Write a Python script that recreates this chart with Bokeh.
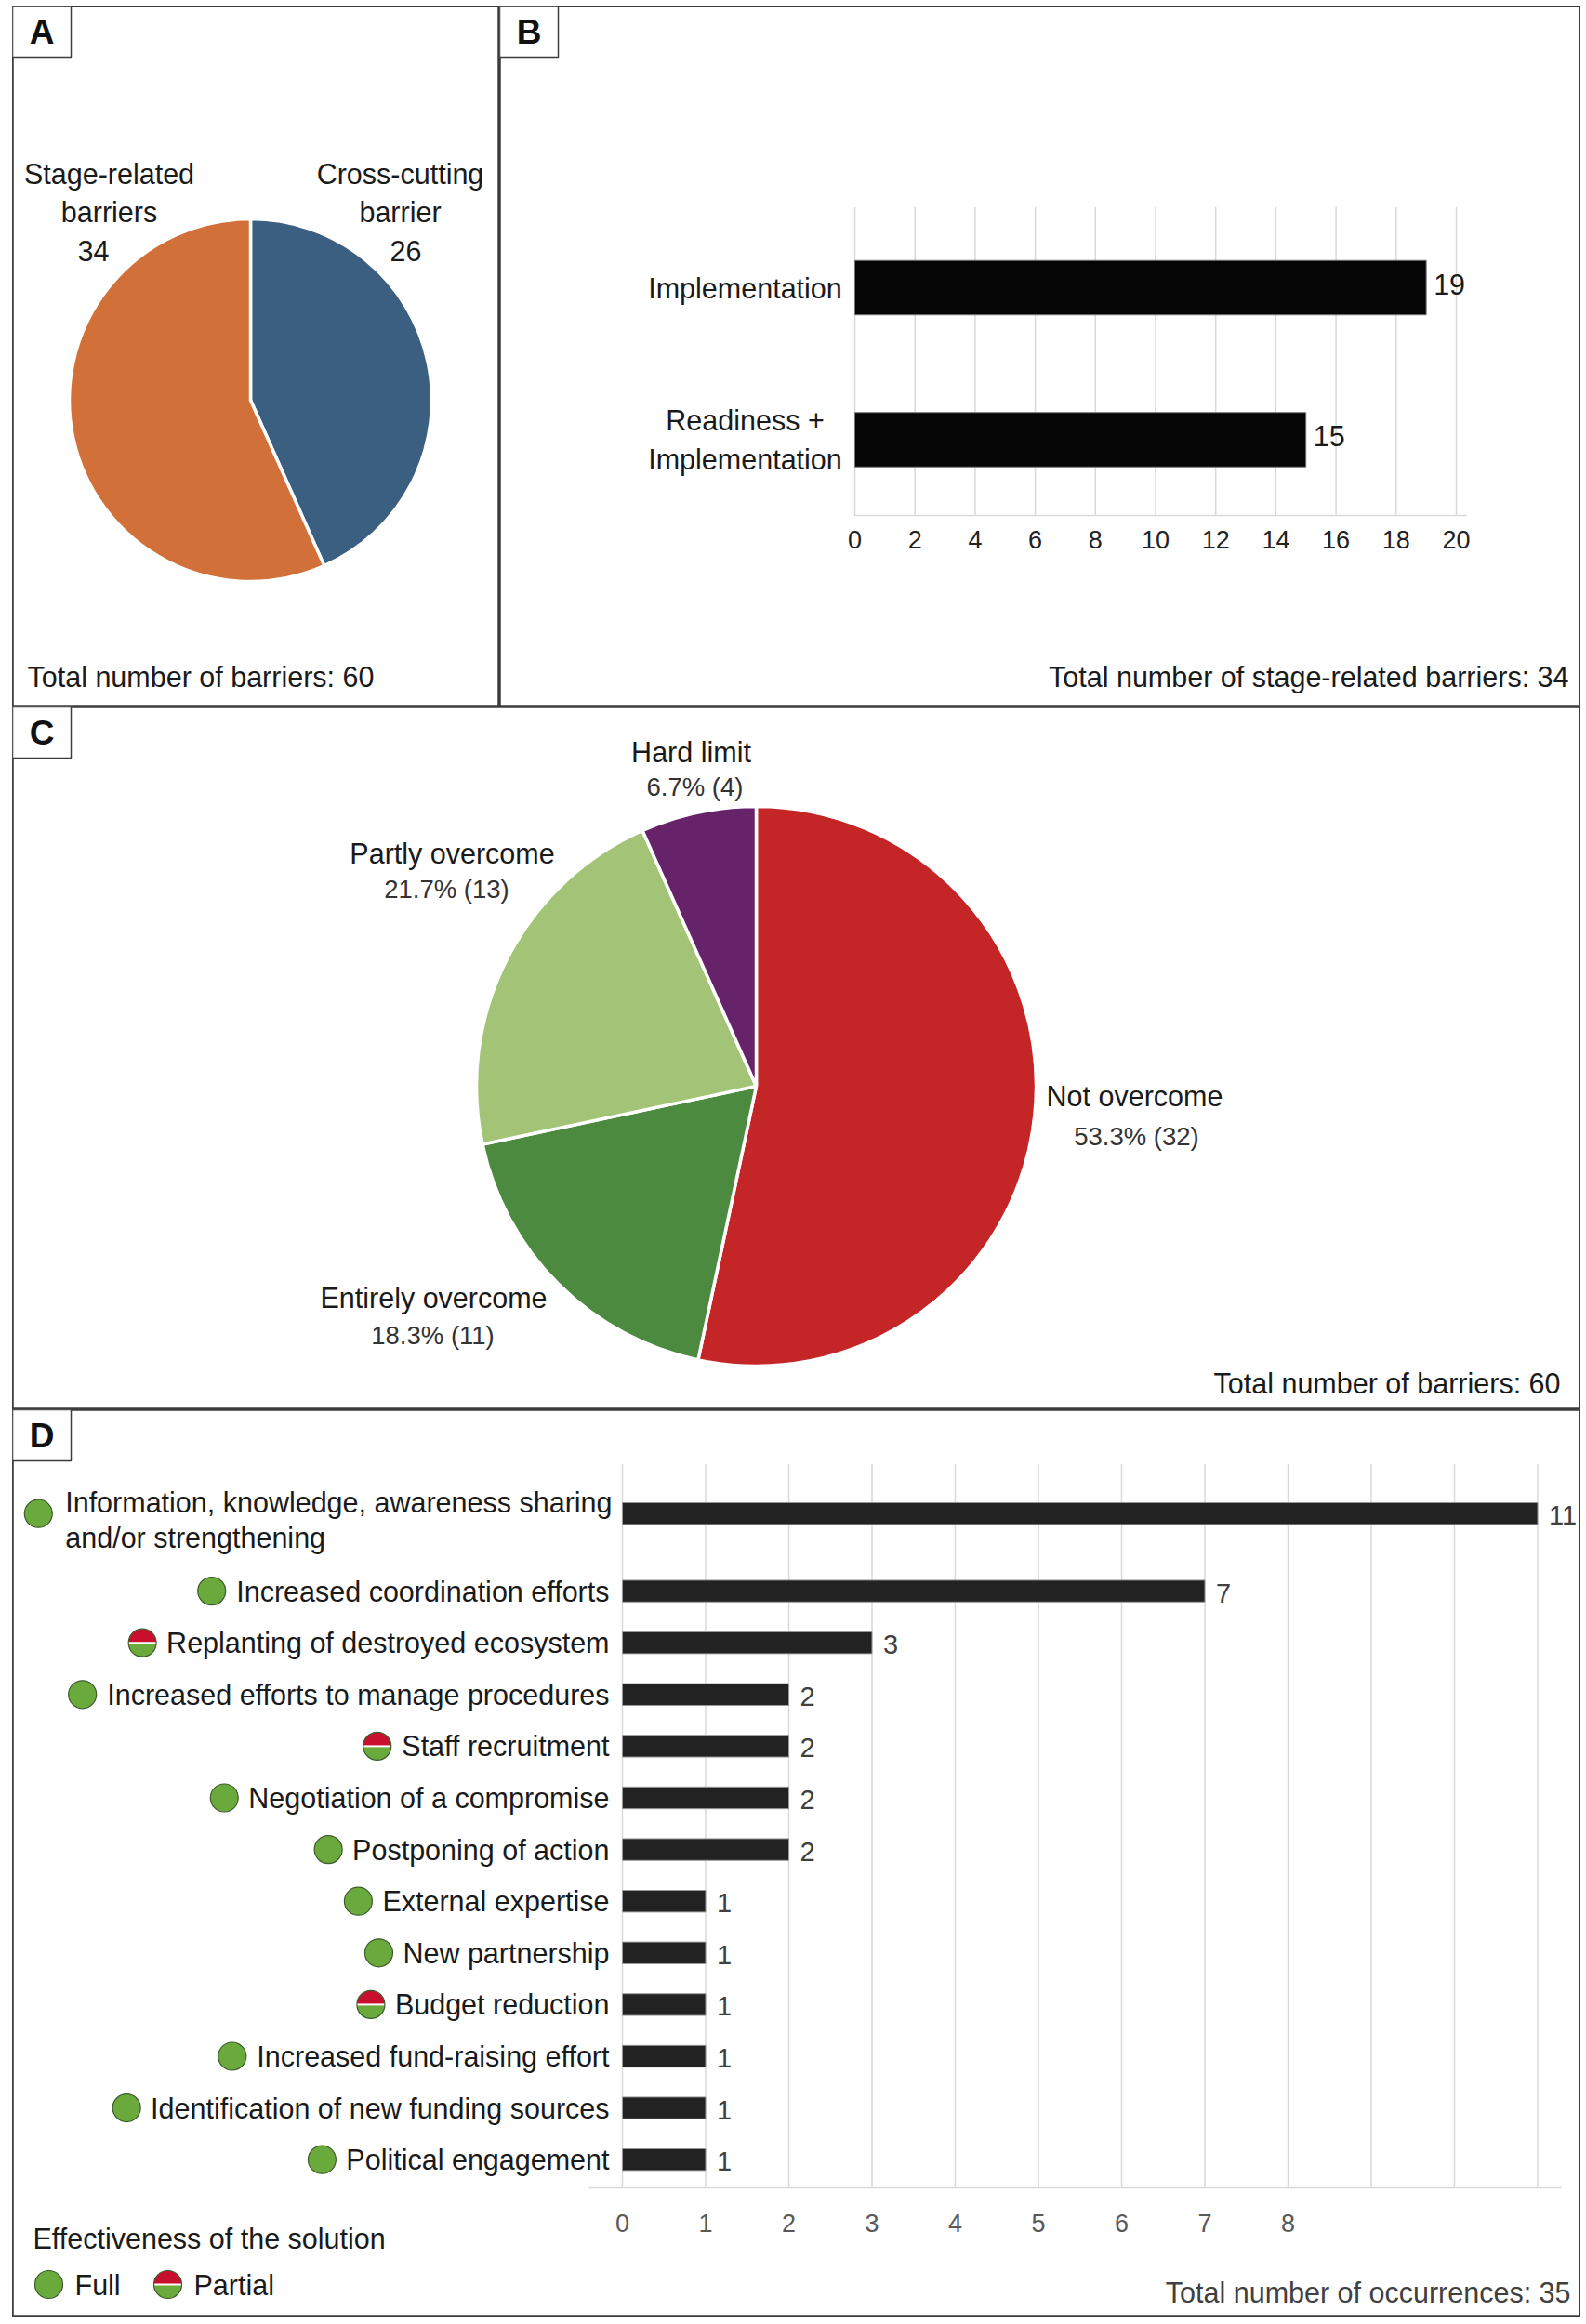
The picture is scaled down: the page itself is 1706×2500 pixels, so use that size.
import numpy as np
from bokeh.plotting import figure
from bokeh.models import Range1d, LinearAxis, FixedTicker
from bokeh.layouts import column, row
from bokeh.core.properties import value
from bokeh.embed import file_html
from bokeh.resources import INLINE

# ---------------- data ----------------
a_categories = ["Cross-cutting\nbarrier", "Stage-related\nbarriers"]
a_values = [26, 34]

b_categories = ["Implementation", "Readiness +\nImplementation"]
b_values = [19, 15]
b_ticks = [0, 2, 4, 6, 8, 10, 12, 14, 16, 18, 20]

c_categories = ["Not overcome", "Entirely overcome", "Partly overcome", "Hard limit"]
c_values = [32, 11, 13, 4]

d_categories = [
    "Information, knowledge, awareness sharing\nand/or strengthening",
    "Increased coordination efforts",
    "Replanting of destroyed ecosystem",
    "Increased efforts to manage procedures",
    "Staff recruitment",
    "Negotiation of a compromise",
    "Postponing of action",
    "External expertise",
    "New partnership",
    "Budget reduction",
    "Increased fund-raising effort",
    "Identification of new funding sources",
    "Political engagement",
]
d_values = [11, 7, 3, 2, 2, 2, 2, 1, 1, 1, 1, 1, 1]
d_effect = ["Full", "Full", "Partial", "Full", "Partial", "Full", "Full",
            "Full", "Full", "Partial", "Full", "Full", "Full"]
d_ticks = [0, 1, 2, 3, 4, 5, 6, 7, 8]
d_grid_ticks = [0, 1, 2, 3, 4, 5, 6, 7, 8, 9, 10, 11]

# ---------------- styles ----------------
FONT = "Liberation Sans"
BOLDF = "Liberation Sans"
TXT = "#1a1a1a"
FRAME = "#3c3c3c"
GRID = "#D9D9D9"
A_COLORS = ["#3B5F81", "#D2703A"]
C_COLORS = ["#C42526", "#4C8A40", "#A3C477", "#66236A"]
GREEN = "#6AAA3C"
RED = "#C8102E"
S_MAIN = 30.5     # main label size
S_TICK = 27
S_PCT = 27.5

# text width estimate (Arial / Liberation Sans metrics)
_AW = {' ': 278, ',': 278, '-': 333, '.': 278, '/': 278, '+': 584, '(': 333,
       ')': 333, '%': 889, ':': 278}
for _c in '0123456789':
    _AW[_c] = 556
_AW.update(dict(A=667, B=667, C=722, D=722, E=667, F=611, G=778, H=722, I=278, J=500,
                K=667, L=556, M=833, N=722, O=778, P=667, Q=778, R=722, S=667, T=611,
                U=722, V=667, W=944, X=667, Y=667, Z=611))
_AW.update(dict(a=556, b=556, c=500, d=556, e=556, f=278, g=556, h=556, i=222, j=222,
                k=500, l=222, m=833, n=556, o=556, p=556, q=556, r=333, s=500, t=278,
                u=556, v=500, w=722, x=500, y=500, z=500))


def text_width(s, size=S_MAIN):
    return sum(_AW.get(ch, 556) for ch in s) * size / 1000.0


def panel(L, T, W, H, x_range=None, y_range=None):
    xr = x_range if x_range is not None else Range1d(L, L + W)
    yr = y_range if y_range is not None else Range1d(-(T + H), -T)
    p = figure(width=W, height=H, x_range=xr, y_range=yr, output_backend="svg",
               toolbar_location=None, x_axis_type=None, y_axis_type=None,
               min_border=0, outline_line_color=FRAME, outline_line_width=2.5,
               background_fill_color="white", border_fill_color="white")
    p.extra_x_ranges = {"px": Range1d(L, L + W)}
    p.extra_y_ranges = {"px": Range1d(-(T + H), -T)}
    return p


def txt(p, x, y, s, size=S_MAIN, color=TXT, align="center", baseline="middle",
        font=FONT, style="normal", lh=1.2, xr="px", yr="px", xo=0, yo=0):
    p.text(x=[x], y=[y], text=[s], text_font=value(font), text_font_size=f"{size}px",
           text_font_style=style, text_color=color, text_align=align,
           text_baseline=baseline, text_line_height=lh, x_offset=xo, y_offset=yo,
           x_range_name=xr, y_range_name=yr)


def letter(p, L, T, ch):
    p.quad(left=[L], right=[L + 63], top=[-T], bottom=[-(T + 55)], fill_color="white",
           line_color=FRAME, line_width=1.5, x_range_name="px", y_range_name="px")
    txt(p, L + 31.5, -(T + 28), ch, size=37, font=BOLDF, style="bold", color="#111111")


def pie(p, cx, cy, r, vals, colors):
    tot = float(sum(vals))
    cum = np.concatenate([[0], np.cumsum(vals)]) / tot
    starts = np.pi / 2 - 2 * np.pi * cum[1:]
    ends = np.pi / 2 - 2 * np.pi * cum[:-1]
    p.wedge(x=[cx] * len(vals), y=[-cy] * len(vals), radius=r, start_angle=starts,
            end_angle=ends, fill_color=colors, line_color="white", line_width=3.5)


def marker(p, x, y, kind, xr="px", yr="px", r=15):
    if kind == "Full":
        p.circle(x=[x], y=[y], radius=r, fill_color=GREEN, line_color="#3E5C2B",
                 line_width=1.2, x_range_name=xr, y_range_name=yr)
    else:
        p.wedge(x=[x], y=[y], radius=r, start_angle=0, end_angle=np.pi, fill_color=RED,
                line_color=None, x_range_name=xr, y_range_name=yr)
        p.wedge(x=[x], y=[y], radius=r, start_angle=np.pi, end_angle=2 * np.pi,
                fill_color=GREEN, line_color=None, x_range_name=xr, y_range_name=yr)
        p.segment(x0=[x - r], x1=[x + r], y0=[y], y1=[y], line_color="white",
                  line_width=2, x_range_name=xr, y_range_name=yr)
        p.circle(x=[x], y=[y], radius=r, fill_color=None, line_color="#3E5C2B",
                 line_width=1.2, x_range_name=xr, y_range_name=yr)


# ================= Panel A =================
A_L, A_T, A_W, A_H = 13, 6, 524, 754
pa = panel(A_L, A_T, A_W, A_H)
pie(pa, 269, 430, 195, a_values, A_COLORS)
a_name_pos = [(430, 207), (117, 207)]
a_val_pos = [(436, 269), (100, 269)]
for cat, v, (nx, ny), (vx, vy) in zip(a_categories, a_values, a_name_pos, a_val_pos):
    txt(pa, nx, -ny, cat, lh=1.2)
    txt(pa, vx, -vy, str(v))
txt(pa, 29, -727, f"Total number of barriers: {sum(a_values)}", align="left")
letter(pa, A_L, A_T, "A")

# ================= Panel B =================
B_L, B_T, B_W, B_H = 537, 6, 1163, 754
bx0, bx20 = 919.0, 1566.0
bu = (bx20 - bx0) / 20.0
b_row0, b_pitch = 309.0, 163.5
b_y = [-i for i in range(len(b_categories))]
pb = panel(B_L, B_T, B_W, B_H,
           x_range=Range1d((B_L - bx0) / bu, (B_L + B_W - bx0) / bu),
           y_range=Range1d(-((B_T + B_H) - b_row0) / b_pitch, (b_row0 - B_T) / b_pitch))
b_top = b_y[0] + 0.53
b_bot = b_y[-1] - 0.5
pb.segment(x0=b_ticks, x1=b_ticks, y0=[b_bot] * len(b_ticks), y1=[b_top] * len(b_ticks),
           line_color=GRID, line_width=1.5)
bax = LinearAxis(ticker=FixedTicker(ticks=b_ticks), fixed_location=b_bot,
                 bounds=(0, 20.35), axis_line_color=GRID, axis_line_width=1.5,
                 major_tick_line_color=None, minor_tick_line_color=None,
                 major_label_text_font=FONT, major_label_text_font_size=f"{S_TICK}px",
                 major_label_text_color="#222222", major_label_standoff=10)
pb.add_layout(bax, "below")
pb.hbar(y=b_y, left=0, right=b_values, height=0.358, fill_color="#050505",
        line_color="#777777", line_width=1)
pb.text(x=b_values, y=b_y, text=[str(v) for v in b_values], text_font=value(FONT),
        text_font_size=f"{S_MAIN}px", text_color=TXT, text_align="left",
        text_baseline="middle", x_offset=8, y_offset=-4)
for cat, yy in zip(b_categories, b_y):
    txt(pb, 801, yy, cat, lh=1.25, yr="default")
txt(pb, 1687, -727, f"Total number of stage-related barriers: {sum(b_values)}",
    align="right")
letter(pb, B_L, B_T, "B")

# ================= Panel C =================
C_L, C_T, C_W, C_H = 13, 760, 1687, 756
pc = panel(C_L, C_T, C_W, C_H)
pie(pc, 813, 1168, 301, c_values, C_COLORS)
c_tot = sum(c_values)
c_name_pos = [(1220, 1178), (466, 1395), (486, 917), (743, 808)]
c_pct_pos = [(1222, 1222), (465, 1436), (480, 956), (747, 846)]
for cat, v, (nx, ny), (px_, py_) in zip(c_categories, c_values, c_name_pos, c_pct_pos):
    txt(pc, nx, -ny, cat)
    txt(pc, px_, -py_, f"{v / c_tot * 100:.1f}% ({v})", size=S_PCT, color="#333333")
txt(pc, 1678, -1487, f"Total number of barriers: {c_tot}", align="right")
letter(pc, C_L, C_T, "C")

# ================= Panel D =================
D_L, D_T, D_W, D_H = 13, 1516, 1687, 976
dx0, du = 669.0, 89.5
d_row0, d_pitch = 1627.7, 55.6
d_lines = [len(c.split("\n")) for c in d_categories]
d_y = [0.0]
for i in range(1, len(d_categories)):
    d_y.append(d_y[-1] - (1 + 0.5 * (d_lines[i - 1] - 1)))
pd_ = panel(D_L, D_T, D_W, D_H,
            x_range=Range1d((D_L - dx0) / du, (D_L + D_W - dx0) / du),
            y_range=Range1d(-((D_T + D_H) - d_row0) / d_pitch, (d_row0 - D_T) / d_pitch))
d_top = d_y[0] + 0.96
d_bot = d_y[-1] - 0.54
pd_.segment(x0=d_grid_ticks, x1=d_grid_ticks, y0=[d_bot] * len(d_grid_ticks),
            y1=[d_top] * len(d_grid_ticks), line_color=GRID, line_width=1.5)
dax = LinearAxis(ticker=FixedTicker(ticks=d_ticks), fixed_location=d_bot,
                 bounds=(-0.4, 11.28), axis_line_color=GRID, axis_line_width=1.5,
                 major_tick_line_color=None, minor_tick_line_color=None,
                 major_label_text_font=FONT, major_label_text_font_size=f"{S_TICK}px",
                 major_label_text_color="#595959", major_label_standoff=23)
pd_.add_layout(dax, "below")
pd_.hbar(y=d_y, left=0, right=d_values, height=0.42, fill_color="#222222",
         line_color="#999999", line_width=1)
pd_.text(x=d_values, y=d_y, text=[str(v) for v in d_values], text_font=value(FONT),
         text_font_size="29px", text_color="#404040", text_align="left",
         text_baseline="middle", x_offset=12, y_offset=2)
D_LABEL_RIGHT = 655
for cat, yy, eff in zip(d_categories, d_y, d_effect):
    lines = cat.split("\n")
    w1 = text_width(lines[0])
    if len(lines) == 1:
        txt(pd_, D_LABEL_RIGHT, yy, lines[0], align="right", yr="default")
    else:
        txt(pd_, D_LABEL_RIGHT + 3, yy, lines[0], align="right", yr="default", yo=-12)
        for k, ln in enumerate(lines[1:]):
            txt(pd_, D_LABEL_RIGHT + 3 - w1, yy, ln, align="left", yr="default",
                yo=-12 + 38 * (k + 1))
    marker(pd_, D_LABEL_RIGHT - w1 - 26, yy, eff, xr="px", yr="default")

txt(pd_, 35, -2407, "Effectiveness of the solution", align="left")
legend_items = ["Full", "Partial"]
for kind, mx in zip(legend_items, [52, 180]):
    marker(pd_, mx, -2457, kind)
    txt(pd_, mx + 28, -2457, kind, align="left")
txt(pd_, 1689, -2465, f"Total number of occurrences: {sum(d_values)}", align="right",
    color="#404040")
letter(pd_, D_L, D_T, "D")

layout = column(row(pa, pb), pc, pd_, margin=(6, 0, 0, 13))

open("out.html", "w").write(file_html(layout, INLINE))
